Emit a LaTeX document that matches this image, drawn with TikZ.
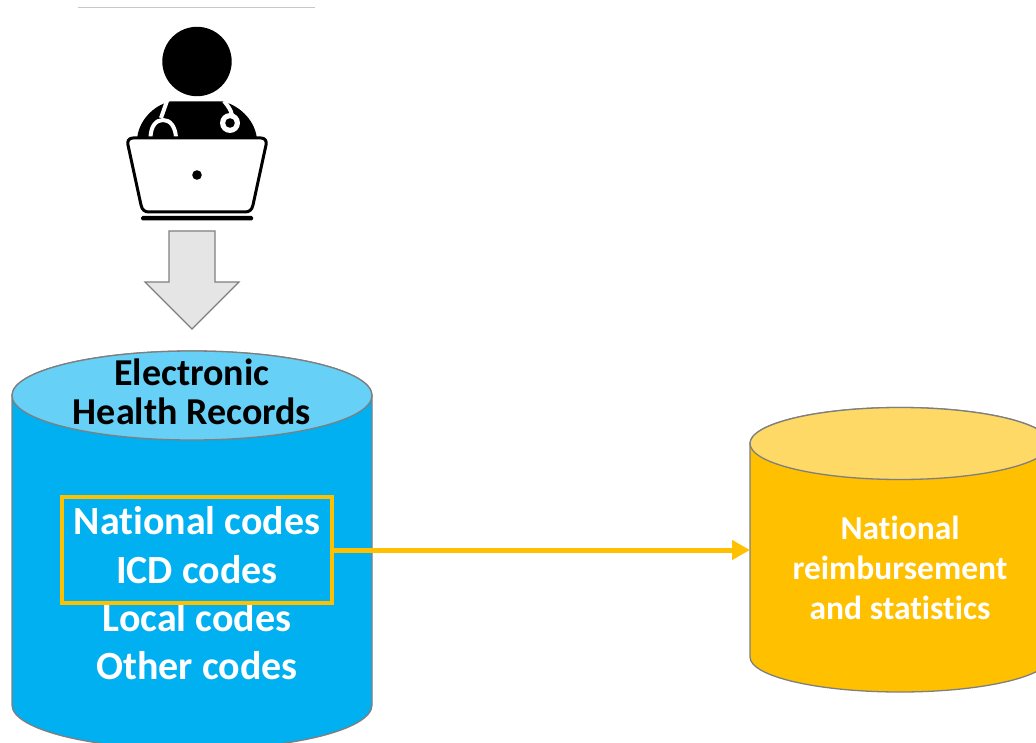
\documentclass[tikz,border=0pt]{standalone}
\usepackage{fontspec}
\setmainfont[Ligatures=NoCommon]{Carlito}
\usetikzlibrary{arrows.meta}
\definecolor{dbblue}{HTML}{00B0F0}
\definecolor{dbbluetop}{HTML}{66D0F6}
\definecolor{dbyellow}{HTML}{FFC000}
\definecolor{dbyellowtop}{HTML}{FFD966}
\definecolor{edgegray}{HTML}{7F7F7F}
\tikzset{
  dbedge/.style={draw=edgegray,line width=1.3pt},
  codetext/.style={text=white,font=\fontsize{40}{40}\selectfont\bfseries,anchor=base,inner sep=0pt},
  storetext/.style={text=white,font=\fontsize{33.5}{33.5}\selectfont\bfseries,anchor=base,inner sep=0pt},
  headtext/.style={text=black,font=\fontsize{38}{38}\selectfont\bfseries,anchor=base,inner sep=0pt},
  stetho/.style={draw=white,line width=4pt,line cap=butt}
}
\begin{document}
\begin{tikzpicture}[x=1pt,y=-1pt]
\useasboundingbox (0,0) rectangle (1036,743);
\clip (0,0) rectangle (1036,743);
% top rule
\draw[draw=black!22,line width=1pt] (78,7.5) -- (315,7.5);
% doctor icon
\fill[black] (197,61.5) circle[radius=34.7];
\fill[black] (137,140) .. controls (138,122) and (152,106) .. (170,101.5) -- (223,101.5)
  .. controls (241,106) and (256,122) .. (257,140) -- cycle;
\draw[stetho] (167,101) -- (161,118);
\draw[stetho] (150.5,137) .. controls (151,126) and (156,120) .. (163,120)
  .. controls (170,120) and (175,126) .. (176,137);
\draw[stetho] (224,101) .. controls (228,106) and (231,110) .. (232,115);
\fill[white] (230,123) circle[radius=10];
\fill[black] (230,123) circle[radius=4.8];
\draw[fill=white,draw=black,line width=3pt,line join=round]
  (133,138) -- (261,138) .. controls (265,138) and (267,141) .. (266,145)
  -- (253,205) .. controls (252,210) and (249,212) .. (245,212) -- (149,212)
  .. controls (145,212) and (142,210) .. (141,205) -- (128,145)
  .. controls (127,141) and (129,138) .. (133,138) -- cycle;
\fill[black] (197,175) circle[radius=4.8];
\fill[black,rounded corners=1.5pt] (141,216) rectangle (253,220.5);
% block arrow
\draw[fill=black!10,draw=edgegray,line width=1.1pt,line join=miter]
  (169,231) -- (215,231) -- (215,282) -- (239,282) -- (192,329) -- (145,282) -- (169,282) -- cycle;
% EHR cylinder
\draw[dbedge,fill=dbblue] (12,395.5) -- (12,705) arc[start angle=180,end angle=360,x radius=180,y radius=-44.5]
  -- (372,395.5) arc[start angle=0,end angle=180,x radius=180,y radius=-44.5] -- cycle;
\draw[dbedge,fill=dbbluetop] (192,395.5) ellipse[x radius=180,y radius=44.5];
\node[headtext] (t1) at (192,385.5) {Electronic};
\node[headtext] (t2) at (192,424.5) {Health Records};
\node[codetext] (c1) at (197,534.5) {National codes};
\node[codetext] (c2) at (197,583) {ICD codes};
\node[codetext] (c3) at (197,631) {Local codes};
\node[codetext] (c4) at (197,679) {Other codes};
% highlight box
\node[draw=dbyellow,line width=4pt,minimum width=270pt,minimum height=106pt,inner sep=0pt,outer sep=2pt] (box) at (197,550) {};
% national cylinder
\draw[dbedge,fill=dbyellow] (750,443.5) -- (750,657) arc[start angle=180,end angle=360,x radius=150,y radius=-35]
  -- (1050,443.5) arc[start angle=0,end angle=180,x radius=150,y radius=-36] -- cycle;
\draw[dbedge,fill=dbyellowtop] (900,443.5) ellipse[x radius=150,y radius=36];
\node[inner sep=0pt,outer sep=0pt,minimum width=300pt,minimum height=285pt] (store) at (900,550) {};
\node[storetext] (s1) at (900,539) {National};
\node[storetext] (s2) at (900,579) {reimbursement};
\node[storetext] (s3) at (900,619) {and statistics};
% connector
\draw[draw=dbyellow,line width=5pt,-{Triangle[length=18pt,width=19pt]}] (box.east) -- (store.west);
\end{tikzpicture}
\end{document}
